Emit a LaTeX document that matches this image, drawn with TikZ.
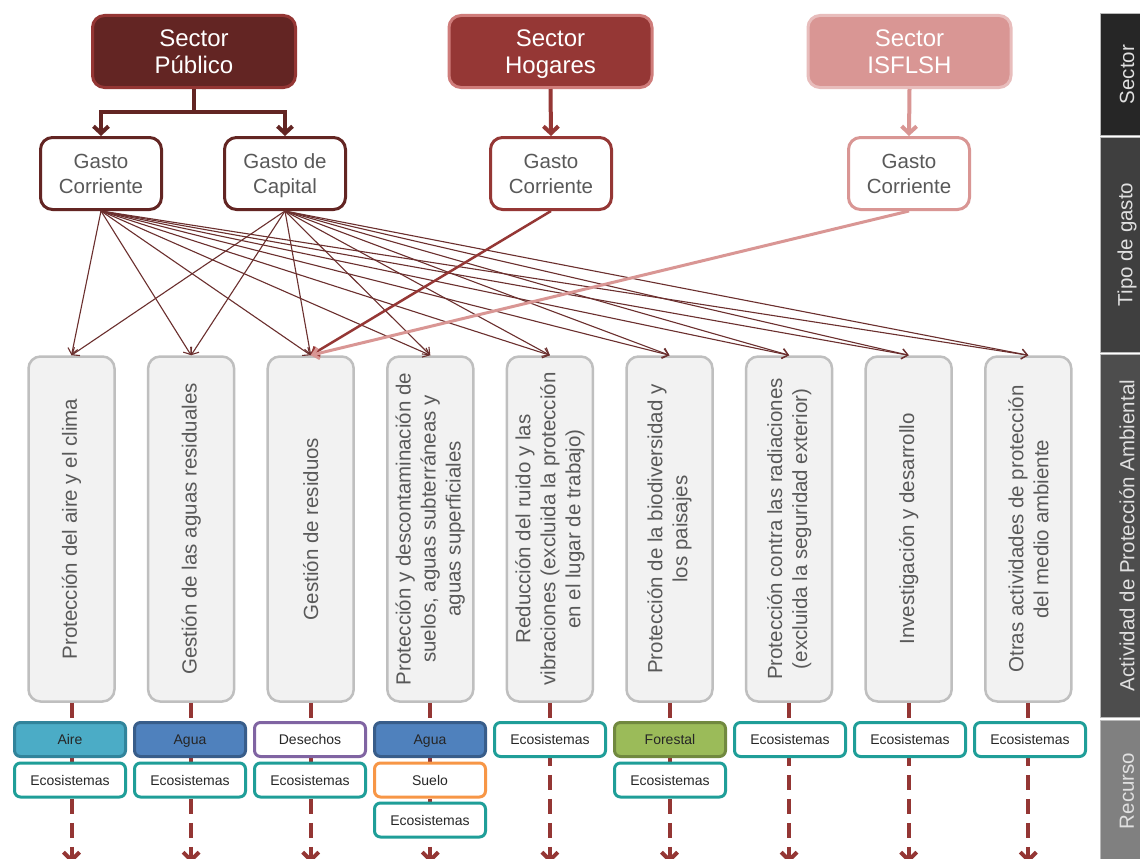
\documentclass[tikz,border=0pt]{standalone}
\usepackage{fontspec}
\setmainfont{Liberation Sans}
\usetikzlibrary{arrows.meta}
\definecolor{pubfill}{HTML}{632523}
\definecolor{pubdraw}{HTML}{943634}
\definecolor{hogfill}{HTML}{953735}
\definecolor{hogdraw}{HTML}{CF7C7A}
\definecolor{isffill}{HTML}{D99694}
\definecolor{isfdraw}{HTML}{E8BDBC}
\definecolor{txtgray}{HTML}{595959}
\definecolor{actfill}{HTML}{F2F2F2}
\definecolor{actdraw}{HTML}{BFBFBF}
\definecolor{thinred}{HTML}{6B2F2E}
\definecolor{dashred}{HTML}{943634}
\definecolor{airefill}{HTML}{4BACC6}
\definecolor{airedraw}{HTML}{31849B}
\definecolor{aguafill}{HTML}{4F81BD}
\definecolor{aguadraw}{HTML}{385D8A}
\definecolor{desdraw}{HTML}{8064A2}
\definecolor{suedraw}{HTML}{F79646}
\definecolor{forfill}{HTML}{9BBB59}
\definecolor{fordraw}{HTML}{71893F}
\definecolor{ecodraw}{HTML}{1F9E98}
\definecolor{sideA}{HTML}{262626}
\definecolor{sideB}{HTML}{3F3F3F}
\definecolor{sideC}{HTML}{4D4D4D}
\definecolor{sideD}{HTML}{808080}
\newcommand\secstrut{\rule[-4.9pt]{0pt}{27pt}}
\newcommand\gasstrut{\rule[-4.9pt]{0pt}{24.5pt}}
\tikzset{
  sectorbox/.style={rounded corners=12pt, minimum width=203pt, minimum height=72pt, line width=3pt, text=white, font=\fontsize{24}{27}\selectfont, align=center, inner sep=0pt},
  gastobox/.style={rounded corners=12pt, fill=white, minimum width=121pt, minimum height=72pt, line width=3pt, text=txtgray, font=\fontsize{20.5}{24.5}\selectfont, align=center, inner sep=0pt},
  actbox/.style={rounded corners=12pt, fill=actfill, draw=actdraw, line width=2.5pt, minimum width=86pt, minimum height=345pt, inner sep=0pt},
  acttext/.style={rotate=90, align=center, text=txtgray, font=\fontsize{20.5}{25}\selectfont, inner sep=0pt},
  resbox/.style={rounded corners=6pt, minimum width=111pt, minimum height=34pt, line width=3pt, font=\fontsize{14}{16}\selectfont, text=black!85, inner sep=0pt, text height=11.5pt, text depth=1.5pt},
  sidebox/.style={draw=gray!55, line width=1pt},
  sidetext/.style={rotate=90, text=white!88!black, font=\fontsize{20.5}{24}\selectfont, inner sep=0pt},
  thickconn/.style={line width=4pt, -{Straight Barb[length=7pt,width=15pt]}},
  thinconn/.style={line width=1.1pt, draw=thinred, -{Straight Barb[length=6pt,width=10pt]}},
  dashconn/.style={line width=4pt, draw=dashred, dash pattern=on 15pt off 9pt, -{Straight Barb[length=8pt,width=16pt]}}
}
\begin{document}
\begin{tikzpicture}[x=1pt,y=-1pt]
\clip (0,0) rectangle (1140,859);
\fill[white] (0,0) rectangle (1140,859);

% side bar
\draw[sidebox, fill=sideA] (1100,14) rectangle (1165,135);
\draw[sidebox, fill=sideB] (1100,137) rectangle (1165,352);
\draw[sidebox, fill=sideC] (1100,354) rectangle (1165,717);
\draw[sidebox, fill=sideD] (1100,720) rectangle (1165,875);
\node[sidetext] (t1) at (1127,74.5) {Sector};
\node[sidetext] (t2) at (1127,244.5) {Tipo de gasto};
\node[sidetext] (t3) at (1127,535.5) {Actividad de Protección Ambiental};
\node[sidetext] (t4) at (1127,791) {Recurso};

% activity boxes
\foreach \i/\x in {1/71.5,2/191.1,3/310.7,4/430.3,5/549.9,6/669.5,7/789.1,8/908.7,9/1028.3}{
  \node[actbox] (a\i) at (\x,529) {};
  \coordinate (e\i) at (\x,863);
}
% dashed resource connectors
\foreach \i in {1,...,9}{
  \draw[dashconn] (a\i.south) -- (e\i);
}

\node[acttext] (l1) at (a1) {Protección del aire y el clima};
\node[acttext] (l2) at (a2) {Gestión de las aguas residuales};
\node[acttext] (l3) at (a3) {Gestión de residuos};
\node[acttext] (l4) at (a4) {Protección y descontaminación de\\suelos, aguas subterráneas y\\aguas superficiales};
\node[acttext] (l5) at (a5) {Reducción del ruido y las\\vibraciones (excluida la protección\\en el lugar de trabajo)};
\node[acttext] (l6) at (a6) {Protección de la biodiversidad y\\los paisajes};
\node[acttext] (l7) at (a7) {Protección contra las radiaciones\\(excluida la seguridad exterior)};
\node[acttext] (l8) at (a8) {Investigación y desarrollo};
\node[acttext] (l9) at (a9) {Otras actividades de protección\\del medio ambiente};

% sector boxes
\node[sectorbox, fill=pubfill, draw=pubdraw] (sp) at (194,51.5) {\secstrut Sector\\\secstrut Público};
\node[sectorbox, fill=hogfill, draw=hogdraw] (sh) at (550.5,51.5) {\secstrut Sector\\\secstrut Hogares};
\node[sectorbox, fill=isffill, draw=isfdraw] (si) at (909.5,51.5) {\secstrut Sector\\\secstrut ISFLSH};

% gasto boxes
\node[gastobox, draw=pubfill] (gc) at (101,173.5) {\gasstrut Gasto\\\gasstrut Corriente};
\node[gastobox, draw=pubfill] (gk) at (285,173.5) {\gasstrut Gasto de\\\gasstrut Capital};
\node[gastobox, draw=hogfill] (gh) at (551,173.5) {\gasstrut Gasto\\\gasstrut Corriente};
\node[gastobox, draw=isffill] (gi) at (909,173.5) {\gasstrut Gasto\\\gasstrut Corriente};

% sector -> gasto
\coordinate (pj) at (194,112);
\draw[line width=4pt, draw=pubfill] (sp.south) -- (pj);
\draw[thickconn, draw=pubfill] (pj) -| (gc.north);
\draw[thickconn, draw=pubfill] (pj) -| (gk.north);
\draw[thickconn, draw=hogfill] (sh.south) -- (gh.north);
\draw[thickconn, draw=isffill] (si.south) -- (gi.north);

% gasto -> actividades
\foreach \i in {1,...,9}{
  \draw[thinconn] (gc.south) -- (a\i.north);
  \draw[thinconn] (gk.south) -- (a\i.north);
}
\draw[line width=2.5pt, draw=hogfill, -{Straight Barb[length=6pt,width=11pt]}] (gh.south) -- (a3.north);
\draw[line width=3pt, draw=isffill, -{Straight Barb[length=6pt,width=11pt]}] (gi.south) -- (a3.north);

% resource boxes
\node[resbox, fill=airefill, draw=airedraw] (r11) at (70,739.5) {Aire};
\node[resbox, fill=white, draw=ecodraw] (r12) at (70,780) {Ecosistemas};
\node[resbox, fill=aguafill, draw=aguadraw] (r21) at (190,739.5) {Agua};
\node[resbox, fill=white, draw=ecodraw] (r22) at (190,780) {Ecosistemas};
\node[resbox, fill=white, draw=desdraw] (r31) at (310,739.5) {Desechos};
\node[resbox, fill=white, draw=ecodraw] (r32) at (310,780) {Ecosistemas};
\node[resbox, fill=aguafill, draw=aguadraw] (r41) at (430,739.5) {Agua};
\node[resbox, fill=white, draw=suedraw] (r42) at (430,780) {Suelo};
\node[resbox, fill=white, draw=ecodraw] (r43) at (430,820) {Ecosistemas};
\node[resbox, fill=white, draw=ecodraw] (r51) at (550,739.5) {Ecosistemas};
\node[resbox, fill=forfill, draw=fordraw] (r61) at (670,739.5) {Forestal};
\node[resbox, fill=white, draw=ecodraw] (r62) at (670,780) {Ecosistemas};
\node[resbox, fill=white, draw=ecodraw] (r71) at (790,739.5) {Ecosistemas};
\node[resbox, fill=white, draw=ecodraw] (r81) at (910,739.5) {Ecosistemas};
\node[resbox, fill=white, draw=ecodraw] (r91) at (1030,739.5) {Ecosistemas};
\end{tikzpicture}
\end{document}
